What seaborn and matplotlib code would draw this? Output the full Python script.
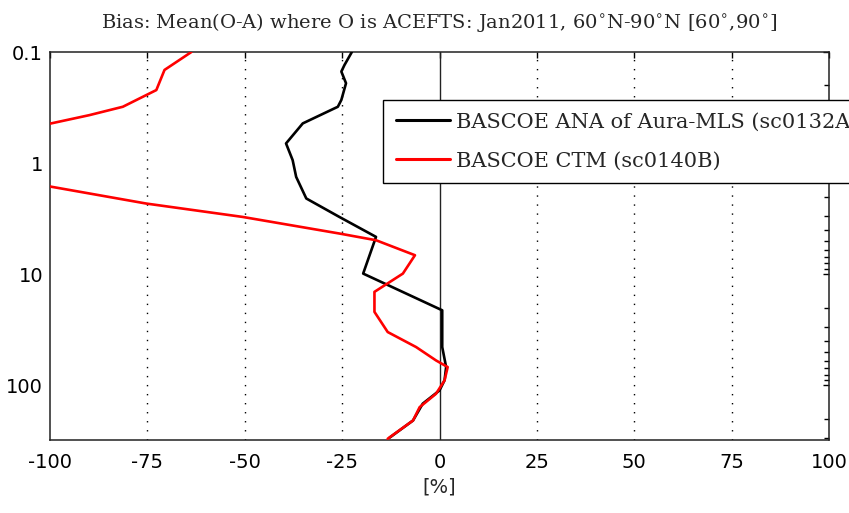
import numpy as np
import pandas as pd
import matplotlib
matplotlib.use("Agg")
import matplotlib.pyplot as plt
from matplotlib.ticker import LogLocator, NullFormatter, FixedLocator, FixedFormatter
import seaborn as sns

# Bias profiles (percent) versus pressure level (hPa)
ana_pressure = [0.1, 0.131, 0.15, 0.191, 0.27, 0.311, 0.439, 0.665, 0.94, 1.33,
                2.08, 3.05, 4.61, 9.86, 21.1, 45.2, 68.4, 90, 111, 146, 207, 295]
ana_bias = [-22.5, -24.4, -25.2, -24.0, -25.2, -26.1, -35.1, -39.4, -37.7, -36.8,
            -34.2, -25.7, -16.3, -19.6, 0.7, 0.7, 1.7, 1.3, 0.0, -4.3, -6.8, -12.8]

ctm_pressure = [0.1, 0.145, 0.22, 0.311, 0.37, 0.439, 0.6, 0.9, 1.3, 1.63, 2.31,
                3.05, 4.3, 4.94, 6.74, 9.86, 14.4, 21.8, 33.1, 45.2, 59.6, 68.4,
                90, 119, 157, 207, 302]
ctm_bias = [-63.7, -70.6, -72.7, -81.3, -89.9, -99.7, -118, -125, -112, -99.7, -75.3,
            -50.5, -25.7, -16.3, -6.3, -9.4, -16.7, -16.7, -13.3, -6.0, -0.9, 2.1,
            1.3, -0.9, -5.1, -6.8, -13.3]

series_names = ["BASCOE ANA of Aura-MLS (sc0132A)", "BASCOE CTM (sc0140B)"]
series_colors = ["black", "red"]

x_ticks = [-100, -75, -50, -25, 0, 25, 50, 75, 100]
y_ticks = [0.1, 1, 10, 100]
y_ticklabels = ["0.1", "1", "10", "100"]

df = pd.concat([
    pd.DataFrame({"bias": ana_bias, "pressure": ana_pressure, "run": series_names[0]}),
    pd.DataFrame({"bias": ctm_bias, "pressure": ctm_pressure, "run": series_names[1]}),
], ignore_index=True)

sns.set_style("white")
plt.rcParams["font.family"] = ["DejaVu Sans"]

fig = plt.figure(figsize=(8.49, 5.13), dpi=100)
ax = fig.add_axes([50 / 849, 1 - 440 / 513, 779 / 849, 388 / 513])

# zero line and dotted vertical grid
ax.axvline(0, color="#222222", lw=1.0, zorder=1)
for xv in x_ticks:
    if xv not in (-100, 0, 100):
        ax.axvline(xv, color="black", lw=1.0, ls=(0, (1, 5.5)), zorder=1)

sns.lineplot(data=df, x="bias", y="pressure", hue="run", palette=series_colors,
             sort=False, estimator=None, lw=1.9, ax=ax, zorder=3)

ax.set_yscale("log")
ax.set_ylim(310, 0.1)
ax.set_xlim(-100, 100)

ax.yaxis.set_major_locator(FixedLocator(y_ticks))
ax.yaxis.set_major_formatter(FixedFormatter(y_ticklabels))
ax.yaxis.set_minor_locator(LogLocator(base=10, subs=np.arange(2, 10), numticks=20))
ax.yaxis.set_minor_formatter(NullFormatter())
ax.set_xticks(x_ticks)
ax.set_xticklabels([str(v) for v in x_ticks])

ax.tick_params(axis="both", which="both", direction="in", top=True, right=True,
               colors="black", labelsize=14, width=1.0)
ax.tick_params(axis="x", which="major", length=4.5, pad=9)
ax.tick_params(axis="y", which="major", length=4.5, pad=5)
ax.tick_params(axis="y", which="minor", length=3.5)
for s in ax.spines.values():
    s.set_color("#222222")
    s.set_linewidth(1.1)
    s.set_visible(True)

ax.set_xlabel("[%]", fontsize=14, labelpad=4)
ax.set_ylabel("")
ax.set_title("Bias: Mean(O-A) where O is ACEFTS: Jan2011, 60$^{\\circ}$N-90$^{\\circ}$N [60$^{\\circ}$,90$^{\\circ}$]",
             fontsize=14, family="DejaVu Serif", pad=17)

handles, labels = ax.get_legend_handles_labels()
leg = ax.legend(handles, labels, loc="upper left", bbox_to_anchor=(383 / 849, 1 - 100 / 513),
                bbox_transform=fig.transFigure, frameon=True, fancybox=False,
                prop={"family": "DejaVu Serif", "size": 15}, handlelength=2.6,
                handletextpad=0.3, borderpad=0.6, labelspacing=0.95, borderaxespad=0)
leg.get_frame().set_edgecolor("black")
leg.get_frame().set_linewidth(1.0)
leg.get_frame().set_alpha(1)
for line in leg.get_lines():
    line.set_linewidth(2.2)

fig.savefig("out.png", dpi=100)
